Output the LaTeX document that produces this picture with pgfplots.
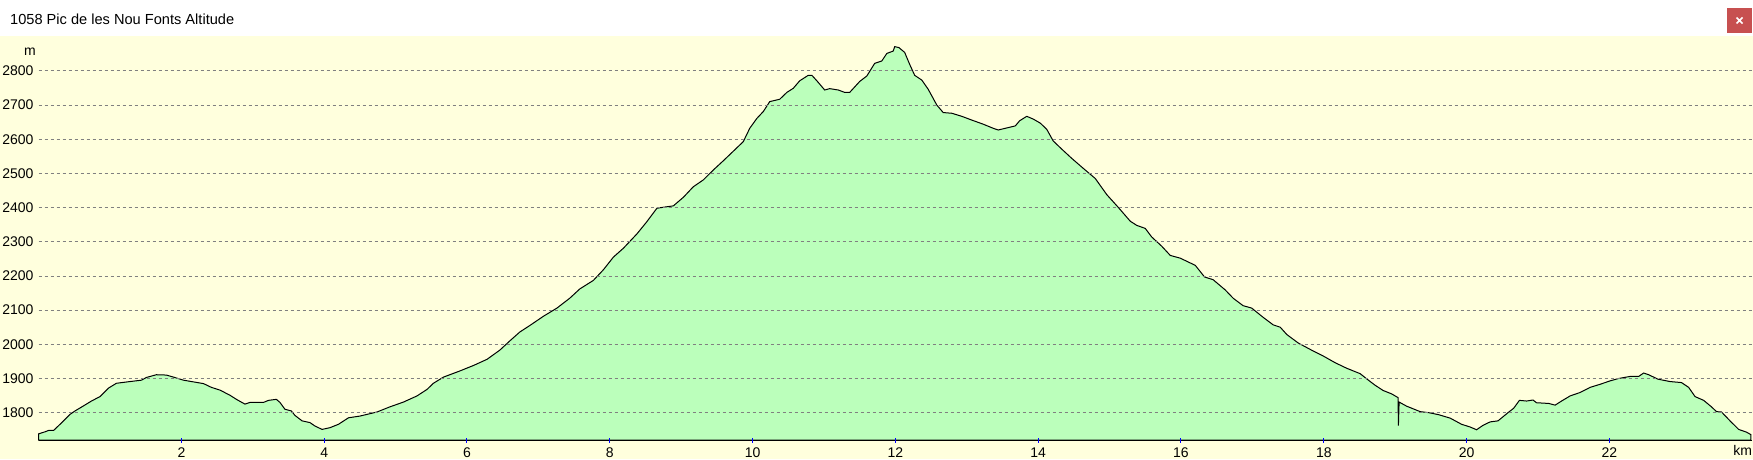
\documentclass[border=0pt]{standalone}
\usepackage{pgfplots}
\pgfplotsset{compat=1.18}
\usepackage{fontspec}
\setmainfont{Liberation Sans}
\definecolor{bgyellow}{HTML}{FFFFDD}
\definecolor{profgreen}{HTML}{BBFFBB}
\definecolor{closered}{HTML}{C75050}
\definecolor{gridgray}{HTML}{808080}
\begin{document}
\begin{tikzpicture}[x=1pt,y=1pt]
\useasboundingbox (0,0) rectangle (1753,459);
\fill[bgyellow] (0,0) rectangle (1753,423);
\fill[white] (0,423) rectangle (1753,459);
\node[anchor=base west, inner sep=0pt, font=\fontsize{14.6}{16}\selectfont] at (10,434) {1058 Pic de les Nou Fonts Altitude};
\fill[closered] (1727,426) rectangle (1752,451);
\draw[white, line width=1.6pt] (1736.5,435.5) -- (1742.5,441.5) (1736.5,441.5) -- (1742.5,435.5);
\begin{axis}[
  at={(38.6pt,19pt)}, anchor=south west, scale only axis,
  width=1713.6pt, height=404pt,
  xmin=0, xmax=24, ymin=1720, ymax=2902,
  axis line style={draw=none},
  xtick pos=left, ytick pos=left,
  xtick={2,4,...,22},
  ytick={1800,1900,...,2800},
  ymajorgrids,
  grid style={gridgray, dash pattern=on 3pt off 3pt, line width=0.8pt},
  xtick style={blue, line width=1pt},
  major tick length=5pt, tick align=center,
  ytick style={draw=none},
  axis on top,
  clip=false,
  tick label style={font=\fontsize{14}{16}\selectfont},
  /pgf/number format/assume math mode=true,
  /pgf/number format/1000 sep={},
  xticklabel style={inner sep=0pt, anchor=north, yshift=-5pt},
  yticklabel style={inner sep=0pt, anchor=east, xshift=-2.5pt},
]
\addplot[draw=black, line width=1pt, fill=profgreen] coordinates {
(0,1738) (0.09,1744) (0.14,1748) (0.21,1748) (0.35,1776) (0.44,1795) (0.51,1805) (0.63,1820) (0.74,1834) (0.86,1847) (0.98,1872) (1.09,1886) (1.28,1891) (1.44,1895) (1.51,1903) (1.65,1911) (1.79,1910) (1.89,1904) (2.03,1895) (2.17,1890) (2.31,1885) (2.42,1874) (2.54,1866) (2.68,1851) (2.77,1839) (2.89,1825) (2.96,1830) (3.15,1830) (3.22,1836) (3.33,1839) (3.38,1830) (3.45,1810) (3.54,1805) (3.59,1792) (3.69,1776) (3.80,1771) (3.87,1761) (3.97,1751) (4.08,1756) (4.20,1766) (4.34,1785) (4.50,1790) (4.74,1802) (4.92,1817) (5.11,1831) (5.30,1849) (5.44,1868) (5.53,1886) (5.67,1904) (5.90,1922) (6.09,1938) (6.28,1956) (6.46,1983) (6.60,2010) (6.74,2036) (6.88,2055) (7.07,2082) (7.26,2106) (7.44,2135) (7.58,2162) (7.77,2187) (7.91,2218) (8.05,2255) (8.19,2281) (8.38,2323) (8.52,2359) (8.66,2398) (8.75,2401) (8.89,2405) (9.03,2430) (9.17,2461) (9.31,2481) (9.45,2510) (9.59,2537) (9.75,2569) (9.87,2593) (9.96,2632) (10.06,2661) (10.15,2681) (10.24,2710) (10.38,2717) (10.48,2737) (10.57,2749) (10.66,2771) (10.78,2787) (10.83,2787) (10.90,2771) (11.01,2744) (11.08,2748) (11.20,2744) (11.29,2737) (11.36,2737) (11.50,2769) (11.60,2785) (11.71,2822) (11.81,2829) (11.88,2851) (11.97,2858) (11.99,2871) (12.05,2868) (12.13,2854) (12.20,2819) (12.27,2787) (12.37,2773) (12.46,2746) (12.58,2700) (12.67,2678) (12.79,2676) (12.93,2667) (13.07,2656) (13.23,2644) (13.37,2632) (13.44,2627) (13.56,2633) (13.68,2639) (13.74,2654) (13.84,2667) (13.93,2659) (14.03,2647) (14.12,2629) (14.21,2595) (14.33,2571) (14.47,2544) (14.63,2515) (14.80,2485) (14.96,2438) (15.12,2401) (15.29,2360) (15.38,2348) (15.50,2339) (15.59,2314) (15.73,2287) (15.85,2260) (15.99,2252) (16.20,2231) (16.33,2197) (16.45,2189) (16.62,2159) (16.73,2135) (16.87,2113) (16.99,2106) (17.15,2079) (17.29,2057) (17.39,2050) (17.48,2029) (17.64,2004) (17.81,1985) (17.99,1966) (18.16,1946) (18.32,1930) (18.51,1914) (18.60,1899) (18.72,1880) (18.83,1865) (18.95,1855) (19.04,1844) (19.045,1762) (19.055,1831) (19.16,1819) (19.35,1803) (19.47,1800) (19.61,1794) (19.77,1784) (19.93,1766) (20.05,1758) (20.14,1750) (20.23,1763) (20.33,1773) (20.44,1776) (20.58,1800) (20.66,1813) (20.74,1836) (20.84,1834) (20.93,1837) (20.98,1829) (21.15,1827) (21.24,1822) (21.33,1834) (21.45,1849) (21.59,1859) (21.73,1874) (21.87,1883) (22.01,1893) (22.13,1900) (22.29,1906) (22.41,1906) (22.48,1916) (22.55,1911) (22.68,1898) (22.85,1891) (23.01,1888) (23.11,1874) (23.20,1847) (23.32,1836) (23.43,1817) (23.50,1803) (23.57,1802) (23.69,1776) (23.81,1751) (23.92,1743) (23.98,1736)
} \closedcycle;
\draw[black, line width=1pt] (rel axis cs:0,0) -- (rel axis cs:1,0);
\node[anchor=east, inner sep=0pt, xshift=-2.5pt, font=\fontsize{14}{16}\selectfont] at (axis cs:0,2855) {m};
\node[anchor=north east, inner sep=0pt, yshift=-5pt, font=\fontsize{14}{16}\selectfont] at (axis cs:24,1720) {km};
\end{axis}
\end{tikzpicture}
\end{document}
